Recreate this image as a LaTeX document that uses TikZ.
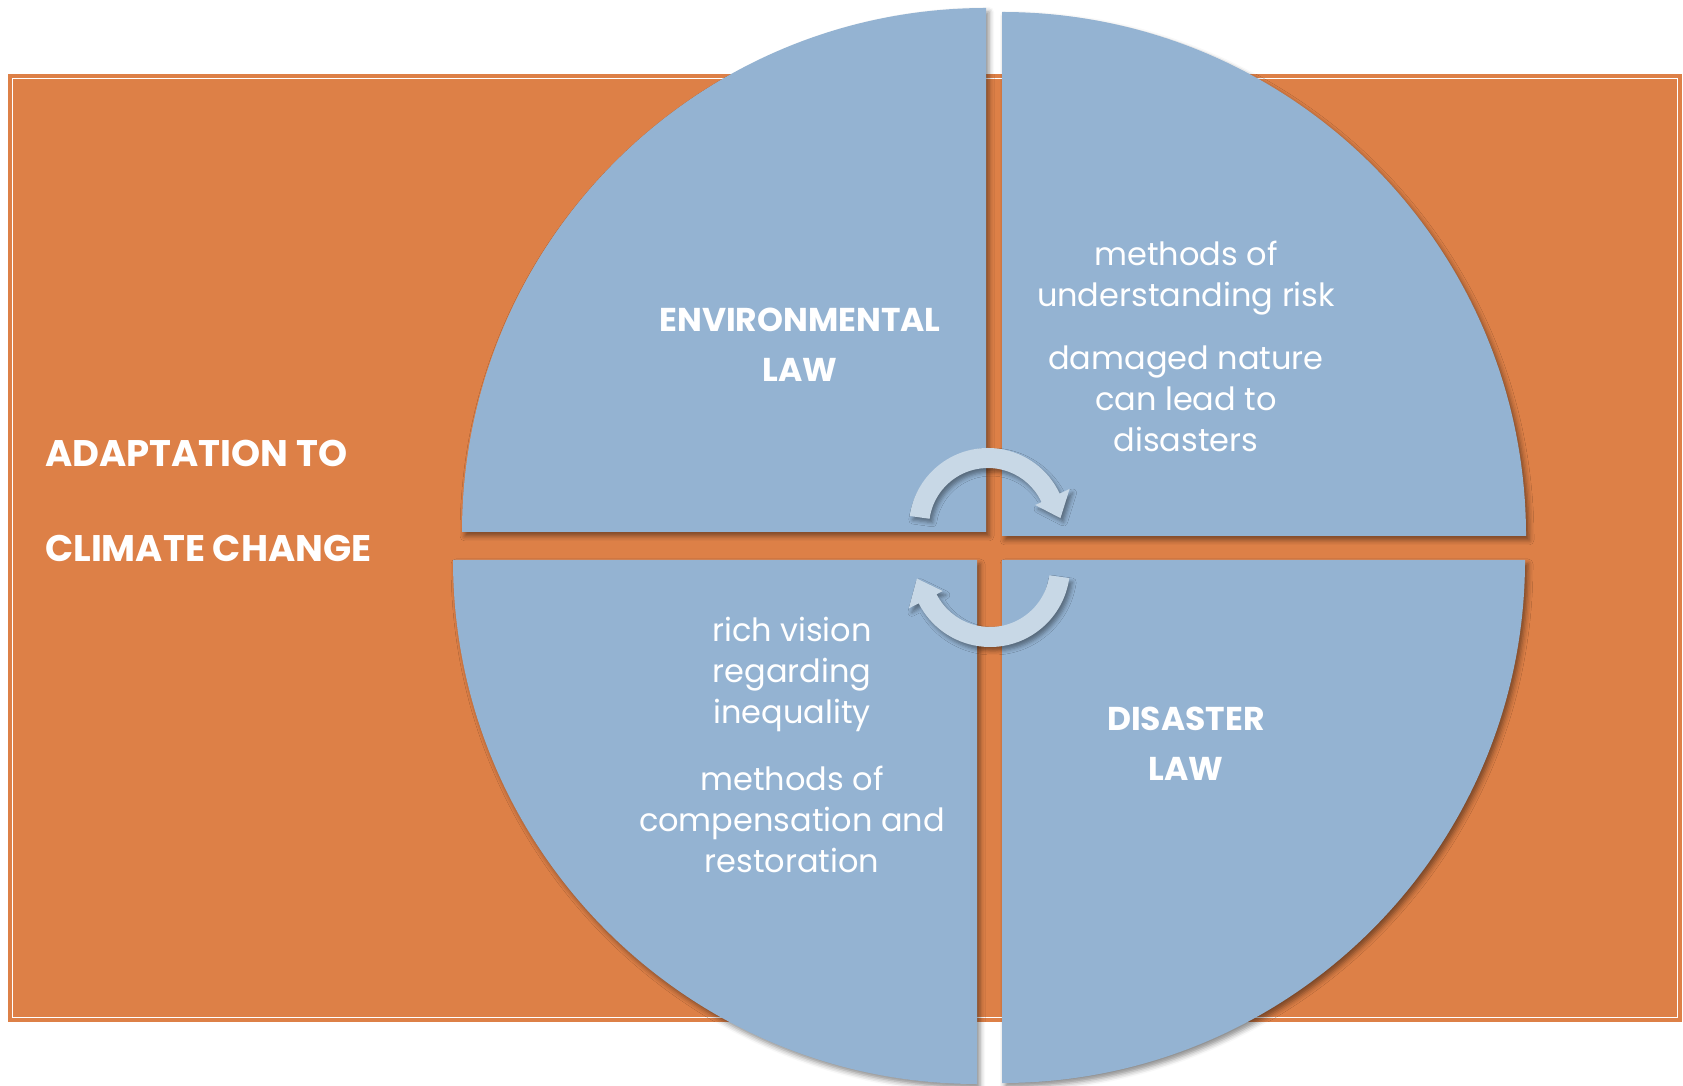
\documentclass[tikz,border=0pt]{standalone}
\usepackage{fontspec}
\setmainfont{Poppins}
\usepackage{tikz}
\usetikzlibrary{shadows.blur}

\definecolor{lawblue}{HTML}{94B3D2}
\definecolor{laworange}{HTML}{DD8047}
\definecolor{turnblue}{HTML}{C8D8E6}

\begin{document}
\begin{tikzpicture}[x=1pt, y=1pt,
                      quarter/.style = {fill = lawblue, blur shadow = {shadow xshift = 3pt, shadow yshift = -4pt, shadow blur radius = 5pt, shadow opacity = 45}},
                      turnarrow/.style = {fill = turnblue, blur shadow = {shadow xshift = 3pt, shadow yshift = -4pt, shadow blur radius = 4pt, shadow opacity = 40}},
                      sidetext/.style = {text = white, font = \fontsize{37}{40}\selectfont\bfseries, anchor = base west, inner sep = 0},
                      headtext/.style = {text = white, font = \fontsize{33}{50}\selectfont\bfseries, align = center, anchor = base, inner sep = 0},
                      bodytext/.style = {text = white, font = \fontsize{32}{41}\selectfont, align = center, anchor = base, inner sep = 0}]
    \useasboundingbox (0, 0) rectangle (1683, 1085);
    % background panel
    \fill [laworange] (8, 63) rectangle (1682, 1011);
    \draw [white, line width = 1.5pt] (12.5, 67.5) rectangle (1677.5, 1006.5);
    % four quarters
    \path [quarter] (986, 553) -- (462, 553) arc [start angle = 180, end angle = 90, radius = 524pt] -- cycle;
    \path [quarter] (1002, 549) -- (1002, 1073) arc [start angle = 90, end angle = 0, radius = 524pt] -- cycle;
    \path [quarter] (977, 525) -- (453, 525) arc [start angle = 180, end angle = 270, radius = 524pt] -- cycle;
    \path [quarter] (1002, 525) -- (1525, 525) arc [start angle = 0, end angle = -90, radius = 523pt] -- cycle;
    % turning arrows
    \begin{scope}[shift = {(988, 558)}]
    \path [turnarrow] (172:79) arc [start angle = 172, end angle = 25, radius = 79pt] -- (25:90) -- (7:73)
        -- (25:52) -- (25:59) arc [start angle = 25, end angle = 172, radius = 59pt] -- cycle;
    \end{scope}
    \begin{scope}[shift = {(990, 518)}]
    \path [turnarrow] (-8:80) arc [start angle = -8, end angle = -153, radius = 80pt] -- (-153:91) -- (-171:74)
        -- (-153:53) -- (-153:60) arc [start angle = -153, end angle = -8, radius = 60pt] -- cycle;
    \end{scope}
    % texts (base = last line)
    \node [sidetext] (adapt) at (45, 618) {ADAPTATION TO};
    \node [sidetext] (climate) at (45, 523) {CLIMATE CHANGE};
    \node [headtext] (envlaw) at (800, 703) {ENVIRONMENTAL\\LAW};
    \node [headtext] (dislaw) at (1186, 305) {DISASTER\\LAW};
    \node [bodytext] (risk) at (1186, 778) {methods of\\understanding risk};
    \node [bodytext] (nature) at (1186, 633) {damaged nature\\can lead to\\disasters};
    \node [bodytext] (vision) at (792, 362) {rich vision\\regarding\\inequality};
    \node [bodytext] (restore) at (792, 213) {methods of\\compensation and\\restoration};
    \end{tikzpicture}
\end{document}
